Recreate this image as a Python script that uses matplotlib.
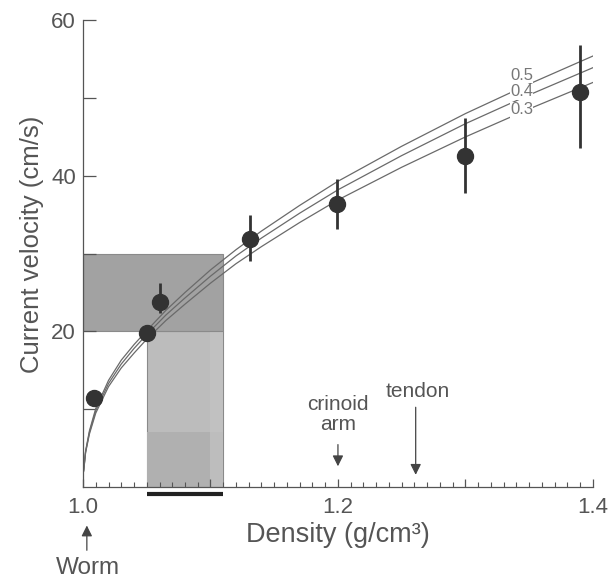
import matplotlib
matplotlib.use("Agg")
import matplotlib.pyplot as plt
from matplotlib.patches import Rectangle
from matplotlib.ticker import MultipleLocator

plt.rcParams['font.family'] = ['Liberation Sans', 'DejaVu Sans']

# measured points (density, velocity) with error bars
density = [1.009, 1.05, 1.06, 1.131, 1.199, 1.30, 1.39]
velocity = [11.4, 19.8, 23.8, 31.9, 36.4, 42.6, 50.8]
err_low = [0, 0, 1.5, 2.9, 3.2, 4.8, 7.2]
err_high = [0, 0, 2.4, 3.1, 3.2, 4.8, 6.0]

# model curves
curve_x = [1.0005, 1.002, 1.005, 1.01, 1.02, 1.03, 1.04, 1.05, 1.065, 1.08,
           1.1, 1.12, 1.14, 1.17, 1.2, 1.25, 1.3, 1.35, 1.4]
curve_05 = [2.2, 4.6, 7.2, 10.1, 13.7, 16.3, 18.3, 20.1, 22.7, 25.0,
            27.9, 30.5, 32.9, 36.2, 39.3, 43.8, 48.0, 51.8, 55.4]
curve_04 = [2.1, 4.5, 7.0, 9.8, 13.3, 15.8, 17.8, 19.6, 22.1, 24.3,
            27.1, 29.7, 32.0, 35.2, 38.2, 42.6, 46.7, 50.4, 53.9]
curve_03 = [2.0, 4.4, 6.8, 9.5, 12.9, 15.3, 17.2, 19.0, 21.4, 23.5,
            26.2, 28.7, 30.9, 34.0, 36.9, 41.1, 45.0, 48.6, 52.0]
curve_labels = ['0.5', '0.4', '0.3']
label_y = [52.9, 50.8, 48.5]

TXT = '#555555'

fig = plt.figure(figsize=(6.15, 5.79), dpi=100)
ax = fig.add_axes([0.135, 0.159, 0.829, 0.806])

# shaded ranges
ax.add_patch(Rectangle((1.05, 0), 0.06, 20, facecolor='#bcbcbc', edgecolor='#8a8a8a', lw=0.8, zorder=1))
ax.add_patch(Rectangle((1.05, 0), 0.06, 7, facecolor='#b0b0b0', edgecolor='none', zorder=1))
ax.add_patch(Rectangle((1.10, 0), 0.01, 20, facecolor='#c6c6c6', edgecolor='none', alpha=0.6, zorder=1))
ax.add_patch(Rectangle((1.0, 20), 0.11, 10, facecolor='#a2a2a2', edgecolor='#8a8a8a', lw=0.8, zorder=1))

for cy in [curve_05, curve_04, curve_03]:
    ax.plot(curve_x, cy, color='#6a6a6a', lw=0.9, zorder=2)

for lab, ly in zip(curve_labels, label_y):
    ax.text(1.344, ly, lab, color='#777777', fontsize=12, ha='center', va='center',
            bbox=dict(facecolor='white', edgecolor='none', pad=0.3), zorder=3)

ax.errorbar(density, velocity, yerr=[err_low, err_high], fmt='o', color='#333333',
            ms=11.5, elinewidth=2, capsize=0, zorder=4)

# bar under the axis
ax.plot([1.05, 1.11], [-0.9, -0.9], color='#222222', lw=3, clip_on=False, solid_capstyle='butt')

arrow = dict(arrowstyle='-|>', color='#444444', lw=0.9, mutation_scale=16)
ax.annotate('', xy=(1.2, 2.3), xytext=(1.2, 5.8), arrowprops=arrow)
ax.text(1.2, 9.3, 'crinoid\narm', ha='center', va='center', color=TXT, fontsize=15, linespacing=1.05)
ax.annotate('', xy=(1.261, 1.2), xytext=(1.261, 10.6), arrowprops=arrow)
ax.text(1.263, 12.3, 'tendon', ha='center', va='center', color=TXT, fontsize=15)
ax.annotate('', xy=(1.003, -4.6), xytext=(1.003, -8.5), arrowprops=arrow, annotation_clip=False)
ax.text(1.004, -10.4, 'Worm', ha='center', va='center', color=TXT, fontsize=17.5, clip_on=False)

ax.set_xlim(1.0, 1.4)
ax.set_ylim(0, 60)
ax.spines['top'].set_visible(False)
ax.spines['right'].set_visible(False)
for s in ['left', 'bottom']:
    ax.spines[s].set_color('#555555')
    ax.spines[s].set_linewidth(0.9)

ax.set_xticks([1.0, 1.1, 1.2, 1.3, 1.4])
ax.set_xticklabels(['1.0', '', '1.2', '', '1.4'])
ax.xaxis.set_minor_locator(MultipleLocator(0.01))
ax.set_yticks([10, 20, 30, 40, 50, 60])
ax.set_yticklabels(['', '20', '', '40', '', '60'])
ax.tick_params(axis='both', which='major', direction='in', colors='#555555', labelcolor=TXT, labelsize=16)
ax.tick_params(axis='y', which='major', length=9, width=0.9, pad=5)
ax.tick_params(axis='x', which='major', length=6, width=0.9, pad=7)
ax.tick_params(axis='x', which='minor', direction='in', length=3.5, width=0.8, colors='#555555')

ax.text(0.5, -0.103, 'Density (g/cm³)', transform=ax.transAxes, ha='center', va='center', color=TXT, fontsize=19.5)
ax.text(-0.1, 0.52, 'Current velocity (cm/s)', transform=ax.transAxes, ha='center', va='center',
        rotation=90, color=TXT, fontsize=18.5)

fig.savefig('out.png', dpi=100)
